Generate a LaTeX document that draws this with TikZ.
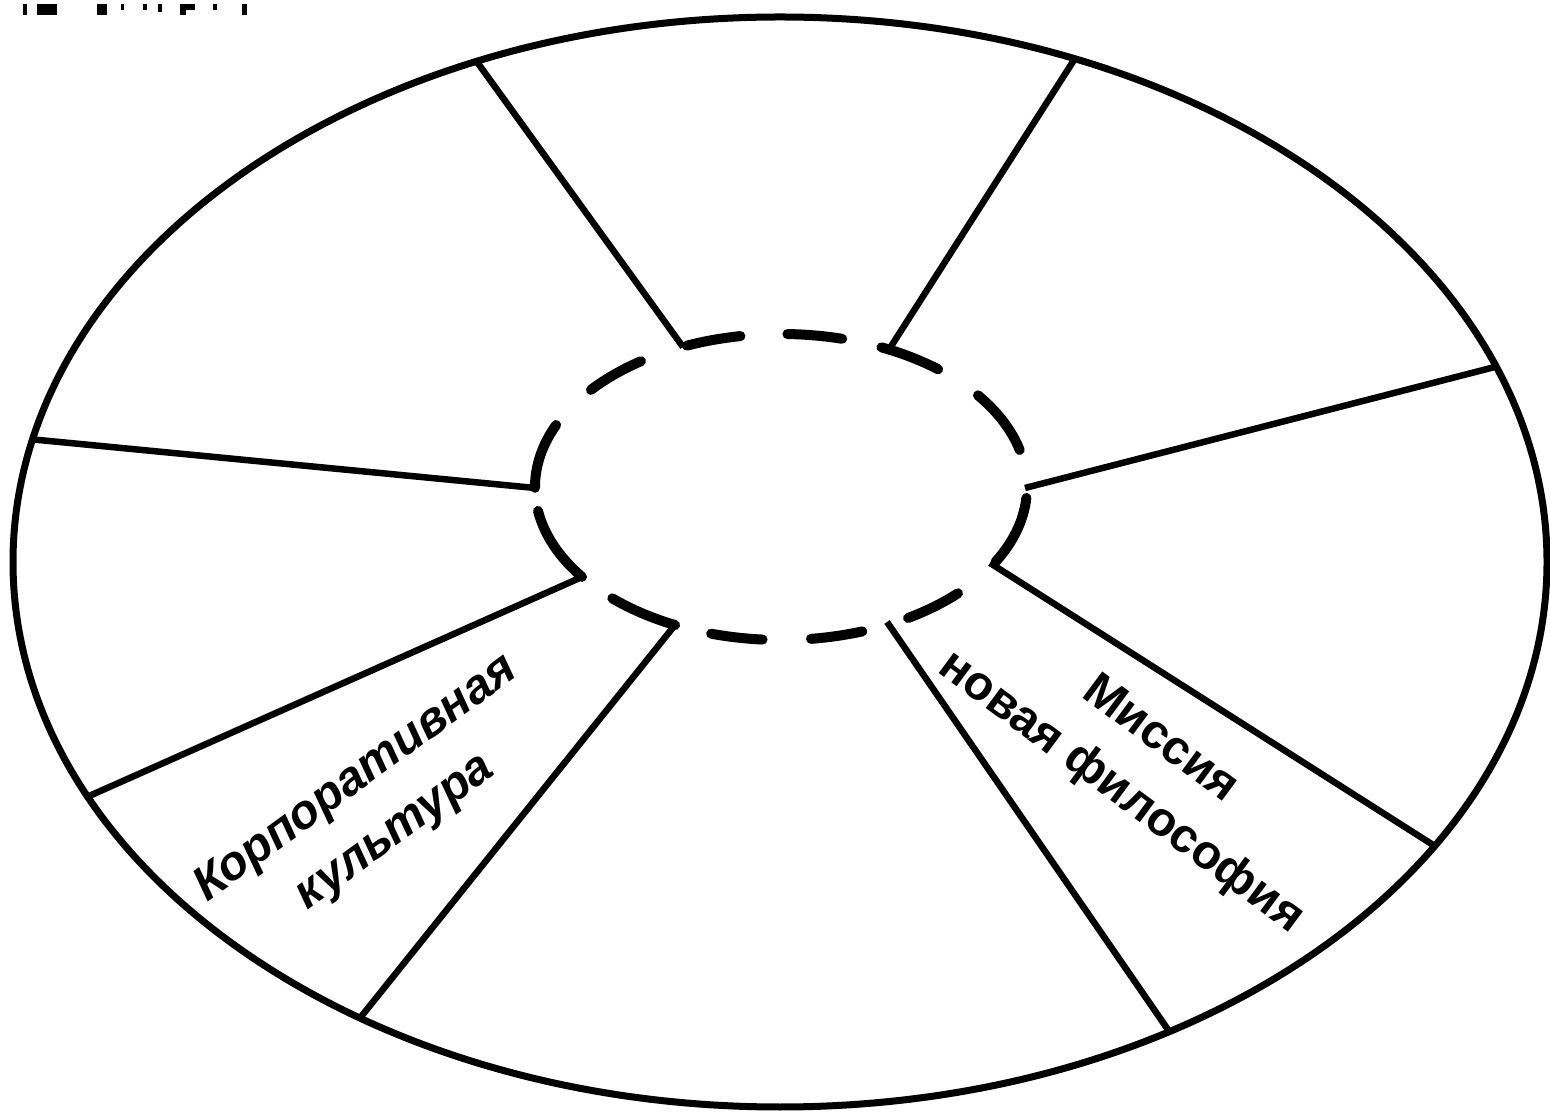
\documentclass[tikz,border=0pt]{standalone}
\usepackage{fontspec}
\setmainfont{Liberation Sans}
\usetikzlibrary{calc}
\begin{document}
\begin{tikzpicture}[x=1pt,y=1pt,
  outerline/.style={line width=7pt},
  spoke/.style={line width=6.5pt},
  dashpiece/.style={line width=10pt,line cap=round},
  lbl/.style={font=\fontsize{48}{66}\selectfont\bfseries,align=center,inner sep=0pt}]
\useasboundingbox[fill=white] (0,0) rectangle (1550,1114);
% top-left fragments
\foreach \a/\b/\c/\d in {23/1099/27/1110, 37/1099/57/1110, 97/1099/107/1110, 121/1104/124/1110, 143/1104/147/1110, 158/1102/162/1110, 180/1099/186/1110, 186/1104/195/1110, 213/1104/217/1110, 242/1099/247/1110}
  \fill (\a,\b) rectangle (\c,\d);
% outer ellipse
\coordinate (oc) at (780,552);
\draw[outerline] (oc) ellipse [x radius=767, y radius=545];
% inner dashed ellipse
\coordinate (ic) at (781,627);
\foreach \s/\e in {112.5/99.5, 88.5/75.6, 65.9/50.3, 36.8/14, -4.1/-29.3, -44/-58.9, -70.7/-83, -94.3/-106.5, -115.5/-133.3, -144/-171, 180.3/156.1, 140.6/124.7}
  \draw[dashpiece] (ic) ++(\s:246 and 153) arc[start angle=\s, end angle=\e, x radius=246, y radius=153];
% spokes
\coordinate (s1i) at (683,767);  \coordinate (s1o) at ($(oc)+(113.3:767 and 545)$);
\coordinate (s2i) at (890,766);  \coordinate (s2o) at ($(oc)+(67.4:767 and 545)$);
\coordinate (s3i) at (1025,626); \coordinate (s3o) at ($(oc)+(21.0:767 and 545)$);
\coordinate (s4i) at (990,551);  \coordinate (s4o) at ($(oc)+(-31.4:767 and 545)$);
\coordinate (s5i) at (887,492);  \coordinate (s5o) at ($(oc)+(-59.5:767 and 545)$);
\coordinate (s6i) at (675,489);  \coordinate (s6o) at ($(oc)+(-123.2:767 and 545)$);
\coordinate (s7i) at (582,537);  \coordinate (s7o) at ($(oc)+(-154.5:767 and 545)$);
\coordinate (s8i) at (535,626);  \coordinate (s8o) at ($(oc)+(167:767 and 545)$);
\foreach \k in {1,...,8} \draw[spoke] (s\k i) -- (s\k o);
% labels
\node[lbl,rotate=36] (kult) at (376,308) {\itshape Корпоративная\\\itshape культура};
\node[lbl,rotate=-36.5] (miss) at (1140,347) {Миссия\\новая философия};
\end{tikzpicture}
\end{document}
